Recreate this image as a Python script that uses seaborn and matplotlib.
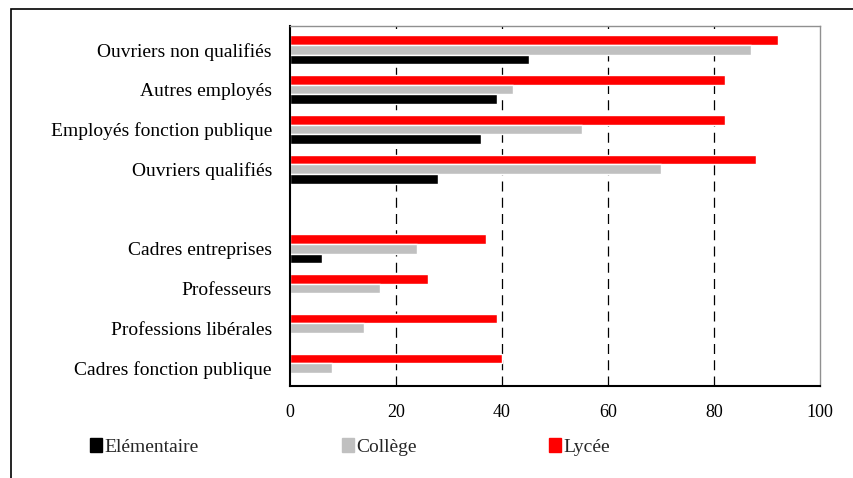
import matplotlib
matplotlib.use("Agg")
import matplotlib.pyplot as plt
from matplotlib.patches import Rectangle
import numpy as np
import pandas as pd
import seaborn as sns

# categories (the empty one is the gap between the two blocks)
categories = ["Ouvriers non qualifiés", "Autres employés", "Employés fonction publique",
              "Ouvriers qualifiés", "", "Cadres entreprises", "Professeurs",
              "Professions libérales", "Cadres fonction publique"]
elementaire = [45, 39, 36, 28, np.nan, 6, 0, 0, 0]
college = [87, 42, 55, 70, np.nan, 24, 17, 14, 8]
lycee = [92, 82, 82, 88, np.nan, 37, 26, 39, 40]

series_names = ["Elémentaire", "Collège", "Lycée"]
series_colors = {"Elémentaire": "#000000", "Collège": "#C0C0C0", "Lycée": "#FF0000"}

rows = []
for name, vals in zip(series_names, [elementaire, college, lycee]):
    for cat, v in zip(categories, vals):
        if not np.isnan(v):
            rows.append({"categorie": cat, "niveau": name, "valeur": v})
df = pd.DataFrame(rows)

sns.set_style("white")
plt.rcParams["font.family"] = ["Liberation Serif", "DejaVu Serif"]

fig = plt.figure(figsize=(8.54, 4.78), dpi=100)
ax = fig.add_axes([290 / 854, 1 - 386 / 478, 530 / 854, 360 / 478])

sns.barplot(data=df, x="valeur", y="categorie", hue="niveau", order=categories,
            hue_order=["Lycée", "Collège", "Elémentaire"], palette=series_colors,
            orient="h", errorbar=None, width=0.73, saturation=1, ax=ax, legend=False)

ax.set_xlim(0, 100)
ax.set_ylim(8.45, -0.6)
ax.set_xticks([0, 20, 40, 60, 80, 100])
ax.set_xlabel("")
ax.set_ylabel("")
ax.tick_params(axis="both", length=0, colors="black")
ax.tick_params(axis="x", pad=13, labelsize=13)
ax.tick_params(axis="y", pad=13, labelsize=14)

# dashed vertical grid
for xv in [20, 40, 60, 80]:
    ax.axvline(xv, color="black", lw=0.9, ls=(0, (8, 5)), zorder=0)

for side in ["left", "bottom"]:
    ax.spines[side].set_color("black")
    ax.spines[side].set_linewidth(1.5)
for side in ["top", "right"]:
    ax.spines[side].set_color("#909090")
    ax.spines[side].set_linewidth(1.0)

# legend entries placed under the axis
leg_x = [90 / 854, 342 / 854, 549 / 854]
for name, lx in zip(series_names, leg_x):
    handle = Rectangle((0, 0), 1, 1, color=series_colors[name])
    fig.legend([handle], [name], loc="center left", bbox_to_anchor=(lx, 1 - 447 / 478),
               frameon=False, fontsize=14, handlelength=0.6, handleheight=0.7,
               handletextpad=0.15, borderaxespad=0, borderpad=0)

# outer frame (cut by the image edges on right and bottom)
fig.patches.append(Rectangle((11 / 854, -0.2), 1.5, 1.2 - 9 / 478, transform=fig.transFigure,
                             fill=False, ec="black", lw=1.2))

plt.savefig("out.png", dpi=100)
